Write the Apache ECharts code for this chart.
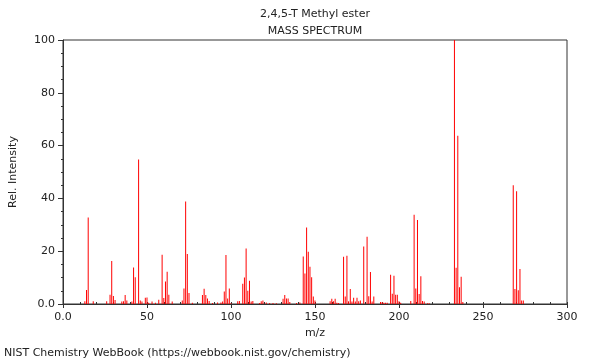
<!DOCTYPE html>
<html>
<head>
<meta charset="utf-8">
<script src="https://cdn.jsdelivr.net/npm/echarts@6/dist/echarts.min.js"></script>
<style>html,body{margin:0;padding:0;background:#fff}#c{width:600px;height:360px}</style>
</head>
<body>
<div id="c"></div>
<script>
var titleText = '2,4,5-T Methyl ester';
var subtitleText = 'MASS SPECTRUM';
var footerText = 'NIST Chemistry WebBook (https://webbook.nist.gov/chemistry)';
var xName = 'm/z';
var yName = 'Rel. Intensity';

var mz = [13,14,15,18,26,28,29,30,31,35,36,37,38,41,42,43,45,46,47,49,50,51,53,55,57,59,60,61,62,63,65,71,72,73,74,75,77,83,84,85,86,87,89,92,94,95,96,97,98,99,100,104,105,107,108,109,110,111,112,113,117,118,119,121,123,125,127,131,132,133,134,135,139,141,143,144,145,146,147,148,149,150,159,160,161,162,163,164,167,168,169,170,171,172,173,174,175,176,177,179,181,182,183,184,185,189,190,191,192,193,195,196,197,198,199,200,201,207,209,210,211,212,213,214,215,217,218,233,234,235,236,237,238,268,269,270,271,272,273,274];
var intensity = [1.0,5.3,32.8,1.0,1.0,3.5,16.3,3.0,1.5,0.9,1.0,3.4,1.3,0.9,13.8,10.1,54.7,1.3,0.9,2.4,2.5,0.5,0.9,0.5,1.6,18.7,2.3,8.5,12.2,3.5,0.9,1.3,5.9,38.8,18.9,4.2,0.5,3.4,5.8,3.4,2.1,1.1,0.4,0.6,0.6,0.9,4.7,18.6,2.1,5.9,0.3,1.0,1.1,7.7,10.0,21.0,5.0,8.8,0.9,1.1,0.4,1.0,1.3,0.6,0.4,0.4,0.3,2.0,3.4,2.1,2.1,0.8,0.4,0.6,18.0,11.6,29.0,19.8,14.1,10.1,2.8,1.3,1.0,2.0,1.0,2.0,0.5,0.4,17.9,2.8,18.3,1.0,5.7,0.9,2.4,0.9,2.4,1.0,1.3,21.8,25.5,2.9,12.1,0.9,2.8,0.8,0.8,0.5,0.5,0.5,11.1,3.9,10.7,3.5,3.5,1.0,0.5,1.1,33.8,5.9,31.8,3.8,10.5,1.1,0.9,0.3,0.3,100,13.7,63.7,6.3,10.3,0.8,45.0,5.7,42.7,5.2,13.3,1.3,1.3];

var data = mz.map(function (m, i) { return [m, intensity[i]]; });
var FONT = '"DejaVu Sans", sans-serif';
var fmt0 = function (v) { return v === 0 ? '0.0' : String(v); };

var chart = echarts.init(document.getElementById('c'), null, {renderer: 'canvas'});
chart.setOption({
  animation: false,
  backgroundColor: '#ffffff',
  textStyle: {fontFamily: FONT},
  grid: {left: 62, right: 33, top: 40, bottom: 56, show: true, borderColor: '#333', borderWidth: 1, containLabel: false},
  graphic: [
    {type: 'text', x: 315, y: 14, style: {text: titleText, font: '11px ' + FONT, fill: '#222', align: 'center', verticalAlign: 'middle', textAlign: 'center', textVerticalAlign: 'middle'}},
    {type: 'text', x: 315, y: 31, style: {text: subtitleText, font: '11px ' + FONT, fill: '#222', align: 'center', verticalAlign: 'middle', textAlign: 'center', textVerticalAlign: 'middle'}},
    {type: 'text', x: 4, y: 353, style: {text: footerText, font: '11px ' + FONT, fill: '#222', align: 'left', verticalAlign: 'middle', textAlign: 'left', textVerticalAlign: 'middle'}}
  ],
  xAxis: [{
    type: 'value', min: 0, max: 300, interval: 50,
    name: xName, nameLocation: 'middle', nameGap: 24,
    nameTextStyle: {fontSize: 11, color: '#222', fontFamily: FONT},
    axisLine: {show: true, lineStyle: {color: '#333', width: 1}},
    axisTick: {show: true, length: 4, lineStyle: {color: '#333'}},
    axisLabel: {fontSize: 11, color: '#222', margin: 8, formatter: fmt0, fontFamily: FONT},
    splitLine: {show: false}
  }, {
    type: 'value', min: 0, max: 300, interval: 10, position: 'bottom',
    axisLine: {show: false},
    axisTick: {show: true, inside: true, length: 2, lineStyle: {color: '#333'}},
    axisLabel: {show: false},
    splitLine: {show: false}
  }],
  yAxis: {
    type: 'value', min: 0, max: 100, interval: 20,
    name: yName, nameLocation: 'middle', nameGap: 44, nameRotate: 90,
    nameTextStyle: {fontSize: 11, color: '#222', fontFamily: FONT},
    axisLine: {show: true, lineStyle: {color: '#333', width: 1}},
    axisTick: {show: true, length: 5, lineStyle: {color: '#333'}},
    minorTick: {show: true, splitNumber: 4, length: 2, lineStyle: {color: '#333'}},
    axisLabel: {fontSize: 11, color: '#222', margin: 8, formatter: fmt0, fontFamily: FONT},
    splitLine: {show: false}
  },
  series: [{
    type: 'bar', xAxisIndex: 0, yAxisIndex: 0,
    data: data, barWidth: 1,
    itemStyle: {color: '#ff0000'},
    silent: true
  }]
});
</script>
</body>
</html>
